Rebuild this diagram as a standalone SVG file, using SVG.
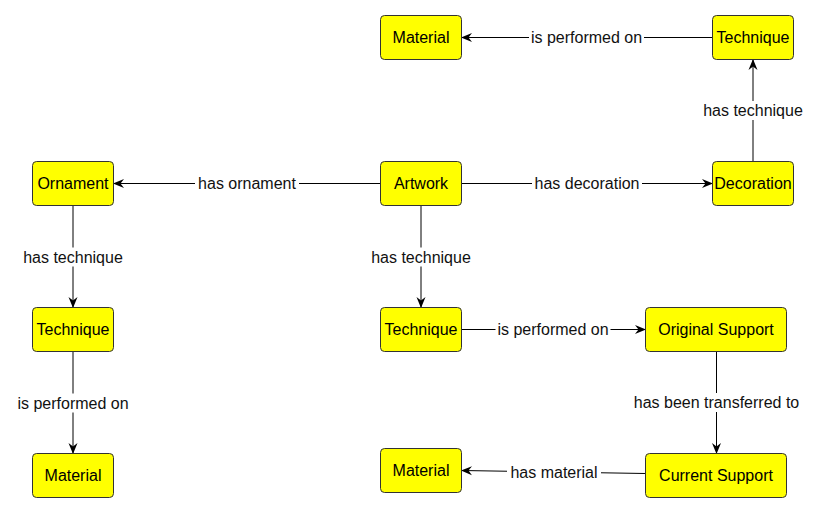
<svg xmlns="http://www.w3.org/2000/svg" width="820" height="512" viewBox="0 0 820 512">
<defs>
<style>
.node rect{fill:#ffff00;stroke:#333333;stroke-width:1}
.node text{font-family:"Liberation Sans",Arial,sans-serif;font-size:16px;fill:#000;text-anchor:middle;dominant-baseline:central}
.edge line{stroke:#000;stroke-width:1;fill:none;marker-end:url(#arr)}
.lbl rect{fill:#fff;stroke:none}
.lbl text{font-family:"Liberation Sans",Arial,sans-serif;font-size:16px;fill:#111;text-anchor:middle;dominant-baseline:central}
</style>
<marker id="arr" viewBox="0 0 11 11" refX="10" refY="5.5" markerWidth="11" markerHeight="11" markerUnits="userSpaceOnUse" orient="auto">
<path d="M0,1 L11,5.5 L0,10 L3.5,5.5 z" fill="#000"/>
</marker>
</defs>
<rect width="820" height="512" fill="#fff"/>
<g id="connectors">
<g class="edge">
<line x1="712.5" y1="37.5" x2="462" y2="37.5"/>
<line x1="753" y1="161.5" x2="753" y2="60"/>
<line x1="461.5" y1="183.5" x2="712" y2="183.5"/>
<line x1="380.5" y1="183.5" x2="114" y2="183.5"/>
<line x1="73" y1="205.5" x2="73" y2="307"/>
<line x1="421" y1="205.5" x2="421" y2="307"/>
<line x1="73" y1="351.5" x2="73" y2="453"/>
<line x1="461.5" y1="329.5" x2="645" y2="329.5"/>
<line x1="716.5" y1="351.5" x2="716.5" y2="453"/>
<line x1="645.5" y1="473.5" x2="462" y2="470.5"/>
</g>
<g class="lbl">
<rect x="529" y="28" width="115" height="19"/><text x="586.5" y="37.5">is performed on</text>
<rect x="701" y="101" width="104" height="19"/><text x="753" y="110.5">has technique</text>
<rect x="532" y="174" width="110" height="19"/><text x="587" y="183.5">has decoration</text>
<rect x="195" y="174" width="104" height="19"/><text x="247" y="183.5">has ornament</text>
<rect x="21" y="247.5" width="104" height="19"/><text x="73" y="257">has technique</text>
<rect x="369" y="247.5" width="104" height="19"/><text x="421" y="257">has technique</text>
<rect x="15.5" y="393.5" width="115" height="19"/><text x="73" y="403">is performed on</text>
<rect x="495.5" y="320" width="115" height="19"/><text x="553" y="329.5">is performed on</text>
<rect x="628" y="393" width="177" height="19"/><text x="716.5" y="402.5">has been transferred to</text>
<rect x="507" y="463" width="94" height="19"/><text x="554" y="472.5">has material</text>
</g>
</g>
<g id="n-material-top" class="node"><rect x="380.5" y="15.5" width="81" height="44" rx="4"/><text x="421" y="37.5">Material</text></g>
<g id="n-technique-top" class="node"><rect x="712.5" y="15.5" width="81" height="44" rx="4"/><text x="753" y="37.5">Technique</text></g>
<g id="n-ornament" class="node"><rect x="32.5" y="161.5" width="81" height="44" rx="4"/><text x="73" y="183.5">Ornament</text></g>
<g id="n-artwork" class="node"><rect x="380.5" y="161.5" width="81" height="44" rx="4"/><text x="421" y="183.5">Artwork</text></g>
<g id="n-decoration" class="node"><rect x="712.5" y="161.5" width="81" height="44" rx="4"/><text x="753" y="183.5">Decoration</text></g>
<g id="n-technique-left" class="node"><rect x="32.5" y="307.5" width="81" height="44" rx="4"/><text x="73" y="329.5">Technique</text></g>
<g id="n-technique-mid" class="node"><rect x="380.5" y="307.5" width="81" height="44" rx="4"/><text x="421" y="329.5">Technique</text></g>
<g id="n-original-support" class="node"><rect x="645.5" y="307.5" width="141" height="44" rx="4"/><text x="716" y="329.5">Original Support</text></g>
<g id="n-material-left" class="node"><rect x="32.5" y="453.5" width="81" height="44" rx="4"/><text x="73" y="475.5">Material</text></g>
<g id="n-material-mid" class="node"><rect x="380.5" y="448.5" width="81" height="44" rx="4"/><text x="421" y="470.5">Material</text></g>
<g id="n-current-support" class="node"><rect x="645.5" y="453.5" width="141" height="44" rx="4"/><text x="716" y="475.5">Current Support</text></g>
</svg>
